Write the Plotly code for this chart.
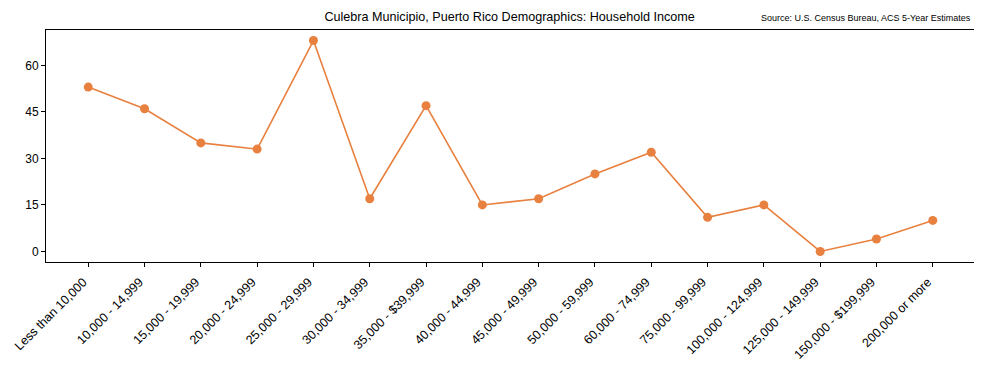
import plotly.graph_objects as go

categories = ["Less than 10,000", "10,000 - 14,999", "15,000 - 19,999", "20,000 - 24,999",
              "25,000 - 29,999", "30,000 - 34,999", "35,000 - $39,999", "40,000 - 44,999",
              "45,000 - 49,999", "50,000 - 59,999", "60,000 - 74,999", "75,000 - 99,999",
              "100,000 - 124,999", "125,000 - 149,999", "150,000 - $199,999", "200,000 or more"]
values = [53, 46, 35, 33, 68, 17, 47, 15, 17, 25, 32, 11, 15, 0, 4, 10]
y_ticks = [0, 15, 30, 45, 60]

color = "#E8803F"
font = "Liberation Sans, Arial, sans-serif"

# the page body has an 8px margin, so the figure is sized/margined to compensate
fig = go.Figure()
fig.add_trace(go.Scatter(
    x=list(range(len(categories))), y=values, mode="lines+markers",
    line=dict(color=color, width=1.6),
    marker=dict(color=color, size=9),
    cliponaxis=False,
))

fig.update_layout(
    width=974, height=361,
    margin=dict(l=38, r=7, t=22, b=107, autoexpand=False),
    paper_bgcolor="white", plot_bgcolor="white",
    font=dict(family=font, size=11, color="black"),
    showlegend=False,
    title=dict(text="Culebra Municipio, Puerto Rico Demographics: Household Income",
               x=0.515, xanchor="center", y=0.975, yanchor="middle",
               font=dict(size=12.6, family=font, color="black")),
    annotations=[dict(text="Source: U.S. Census Bureau, ACS 5-Year Estimates",
                      xref="paper", yref="paper", x=0.998, y=1.052, xanchor="right", yanchor="middle",
                      showarrow=False, font=dict(size=9, family=font, color="black"))],
)
fig.update_xaxes(
    range=[-0.75, 15.75], tickmode="array", tickvals=list(range(len(categories))),
    ticktext=categories, tickangle=-45, ticks="outside", ticklen=4, tickcolor="black",
    showline=True, linecolor="black", linewidth=1, mirror=True, showgrid=False, zeroline=False,
    tickfont=dict(size=12.5, family=font), automargin=False,
    ticklabelshift=-5, ticklabelstandoff=3,
)
fig.update_yaxes(
    range=[-3.4, 71.4], tickmode="array", tickvals=y_ticks, ticks="outside", ticklen=4,
    tickcolor="black", showline=True, linecolor="black", linewidth=1, mirror=True,
    showgrid=False, zeroline=False, tickfont=dict(size=12, family=font), automargin=False,
)

fig.write_html("out.html")
